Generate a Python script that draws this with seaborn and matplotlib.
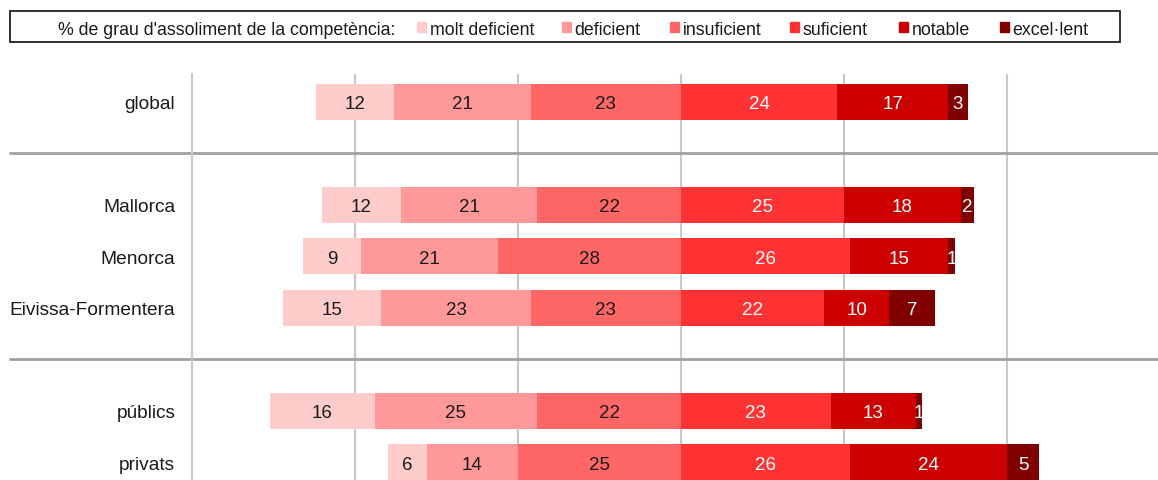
import matplotlib
matplotlib.use("Agg")
import matplotlib.pyplot as plt
import seaborn as sns
import numpy as np
import pandas as pd
from matplotlib.patches import Rectangle

sns.set_theme(style="white")
plt.rcParams['font.family'] = ['Liberation Sans', 'DejaVu Sans']

categories = ["global", "Mallorca", "Menorca", "Eivissa-Formentera", "públics", "privats"]
positions = [0, 2, 3, 4, 6, 7]
levels = ["molt deficient", "deficient", "insuficient", "suficient", "notable", "excel·lent"]
colors = ["#FFCCCC", "#FF9999", "#FF6666", "#FF3333", "#CC0000", "#800000"]
text_colors = ["#1a1a1a", "#1a1a1a", "#1a1a1a", "white", "white", "white"]

molt_deficient = [12, 12, 9, 15, 16, 6]
deficient = [21, 21, 21, 23, 25, 14]
insuficient = [23, 22, 28, 23, 22, 25]
suficient = [24, 25, 26, 22, 23, 26]
notable = [17, 18, 15, 10, 13, 24]
excellent = [3, 2, 1, 7, 1, 5]

series = [molt_deficient, deficient, insuficient, suficient, notable, excellent]

fig = plt.figure(figsize=(11.58, 4.81), dpi=100)
ax = fig.add_axes([192 / 1158, 0, 1 - 192 / 1158, 1 - 75 / 481])

# negative side = first three levels
neg_total = np.array(molt_deficient) + np.array(deficient) + np.array(insuficient)
starts = []
cur = -neg_total.astype(float)
for s in series:
    starts.append(cur.copy())
    cur = cur + np.array(s)

rows = []
for i, lvl in enumerate(levels):
    for j, cat in enumerate(categories):
        rows.append({"cat": cat, "pos": positions[j], "level": lvl,
                     "value": series[i][j], "left": starts[i][j]})
df = pd.DataFrame(rows)

bar_h = 0.7
for i, lvl in enumerate(levels):
    sub = df[df.level == lvl]
    ax.barh(sub["pos"], sub["value"], left=sub["left"], height=bar_h,
            color=colors[i], edgecolor="none", zorder=3)
    for _, r in sub.iterrows():
        ax.text(r["left"] + r["value"] / 2, r["pos"], f"{r['value']:d}",
                ha="center", va="center_baseline", fontsize=13.5, color=text_colors[i], zorder=4)

ax.set_xlim(-75, 73.2)
ax.set_ylim(7.34, -0.54)
for xv in [-50, -25, 0, 25, 50]:
    ax.axvline(xv, color="#c8c8c8", lw=1.5, zorder=1)
for sp in ["top", "right", "bottom"]:
    ax.spines[sp].set_visible(False)
ax.spines["left"].set_color("#c8c8c8")
ax.spines["left"].set_linewidth(1.5)

# separators
for yv in [1, 5]:
    ax.plot([-75 - 182 / 6.52, 73.2], [yv, yv], color="#a0a0a0", lw=2, clip_on=False, zorder=2)

ax.set_xticks([])
ax.set_yticks(positions)
ax.set_yticklabels(categories, fontsize=13.8, color="#1a1a1a")
ax.tick_params(axis="y", length=0, pad=12)
ax.set_xlabel("")
ax.set_ylabel("")

# legend box
W, H = 1158, 481
fig.patches.append(Rectangle((10 / W, 1 - 43 / H), (1120 - 10) / W, 31 / H,
                             transform=fig.transFigure, fill=False,
                             edgecolor="#222222", lw=1.3))
ly = 1 - 28.5 / H
fig.text(58 / W, ly, "% de grau d'assoliment de la competència:", fontsize=12.8,
         va="center_baseline", ha="left", color="#1a1a1a")
sq_x = [417, 562, 670, 790, 899, 1000]
for i, lvl in enumerate(levels):
    fig.patches.append(Rectangle((sq_x[i] / W, 1 - 33 / H), 9 / W, 9.5 / H,
                                 transform=fig.transFigure, color=colors[i]))
    fig.text((sq_x[i] + 12.5) / W, ly, lvl, fontsize=12.8, va="center_baseline", ha="left",
             color="#1a1a1a")

fig.savefig("out.png", dpi=100)
